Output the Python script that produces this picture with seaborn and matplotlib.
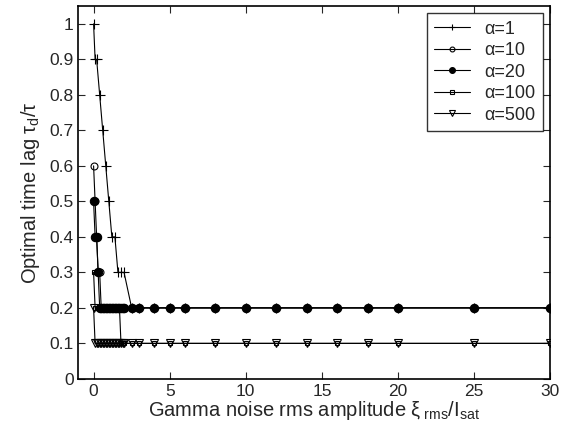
import numpy as np
import pandas as pd
import seaborn as sns
import matplotlib.pyplot as plt

# noise amplitudes (shared grid beyond 2)
x_tail = [2.5, 3, 4, 5, 6, 8, 10, 12, 14, 16, 18, 20, 25, 30]
x_fine = [0, 0.1, 0.2, 0.3, 0.4, 0.5, 0.6, 0.7, 0.8, 0.9, 1.0,
          1.1, 1.2, 1.3, 1.4, 1.5, 1.6, 1.7, 1.8, 1.9, 2.0]
x_a1 = [0, 0.1, 0.2, 0.4, 0.6, 0.8, 1.0, 1.2, 1.4, 1.6, 1.8, 2.0]

lag_a1 = [1.0, 0.9, 0.9, 0.8, 0.7, 0.6, 0.5, 0.4, 0.4, 0.3, 0.3, 0.3] + [0.2] * 14
lag_a10 = [0.6, 0.5, 0.4, 0.3, 0.3] + [0.2] * 16 + [0.2] * 14
lag_a20 = [0.5, 0.4, 0.4, 0.3] + [0.2] * 17 + [0.2] * 14
lag_a100 = [0.3] + [0.2] * 17 + [0.1] * 3 + [0.1] * 14
lag_a500 = [0.2] + [0.1] * 20 + [0.1] * 14

labels = ['α=1', 'α=10', 'α=20', 'α=100', 'α=500']
markers = ['+', 'o', 'o', 's', 'v']
fills = ['k', 'none', 'k', 'none', 'none']
sizes = [6.5, 5, 6, 3.5, 5.5]

series = [
    (x_a1 + x_tail, lag_a1),
    (x_fine + x_tail, lag_a10),
    (x_fine + x_tail, lag_a20),
    (x_fine + x_tail, lag_a100),
    (x_fine + x_tail, lag_a500),
]

sns.set_style('ticks')
plt.rcParams['font.family'] = ['Liberation Sans', 'DejaVu Sans']
plt.rcParams['mathtext.fontset'] = 'custom'
plt.rcParams['mathtext.rm'] = 'Liberation Sans'
plt.rcParams['mathtext.it'] = 'Liberation Sans'

fig = plt.figure(figsize=(5.72, 4.36), dpi=100)
ax = fig.add_axes([0.137, 0.131, 0.825, 0.855])

for (xs, ys), lab, m, fc, ms in zip(series, labels, markers, fills, sizes):
    df = pd.DataFrame({'x': xs, 'y': ys})
    sns.lineplot(data=df, x='x', y='y', ax=ax, color='k', lw=0.8,
                 marker=m, markersize=ms, markerfacecolor=fc,
                 markeredgecolor='k', markeredgewidth=0.8,
                 label=lab, sort=False, estimator=None)

ax.set_xlim(-1, 30)
ax.set_ylim(0, 1.05)
ax.set_xticks([0, 5, 10, 15, 20, 25, 30])
ax.set_yticks(np.round(np.arange(0, 1.01, 0.1), 1))
ax.set_yticklabels(['0', '0.1', '0.2', '0.3', '0.4', '0.5', '0.6', '0.7', '0.8', '0.9', '1'])
ax.tick_params(direction='in', top=True, right=True, labelsize=12.5, length=5, width=0.8)
for s in ax.spines.values():
    s.set_linewidth(1.2)
    s.set_color('k')

ax.set_xlabel(r'Gamma noise rms amplitude $\xi_{\ \rm rms}/\rm I_{\rm sat}$', fontsize=14.5, labelpad=0)
ax.set_ylabel(r'Optimal time lag $\tau_{\rm d}/\tau$', fontsize=14.5, labelpad=5)

leg = ax.legend(loc='upper right', fontsize=13, frameon=True, fancybox=False,
                edgecolor='k', handlelength=2.0, borderaxespad=0.4,
                labelspacing=0.25, markerscale=0.7)
leg.get_frame().set_linewidth(1.0)

fig.savefig('out.png', dpi=100)
